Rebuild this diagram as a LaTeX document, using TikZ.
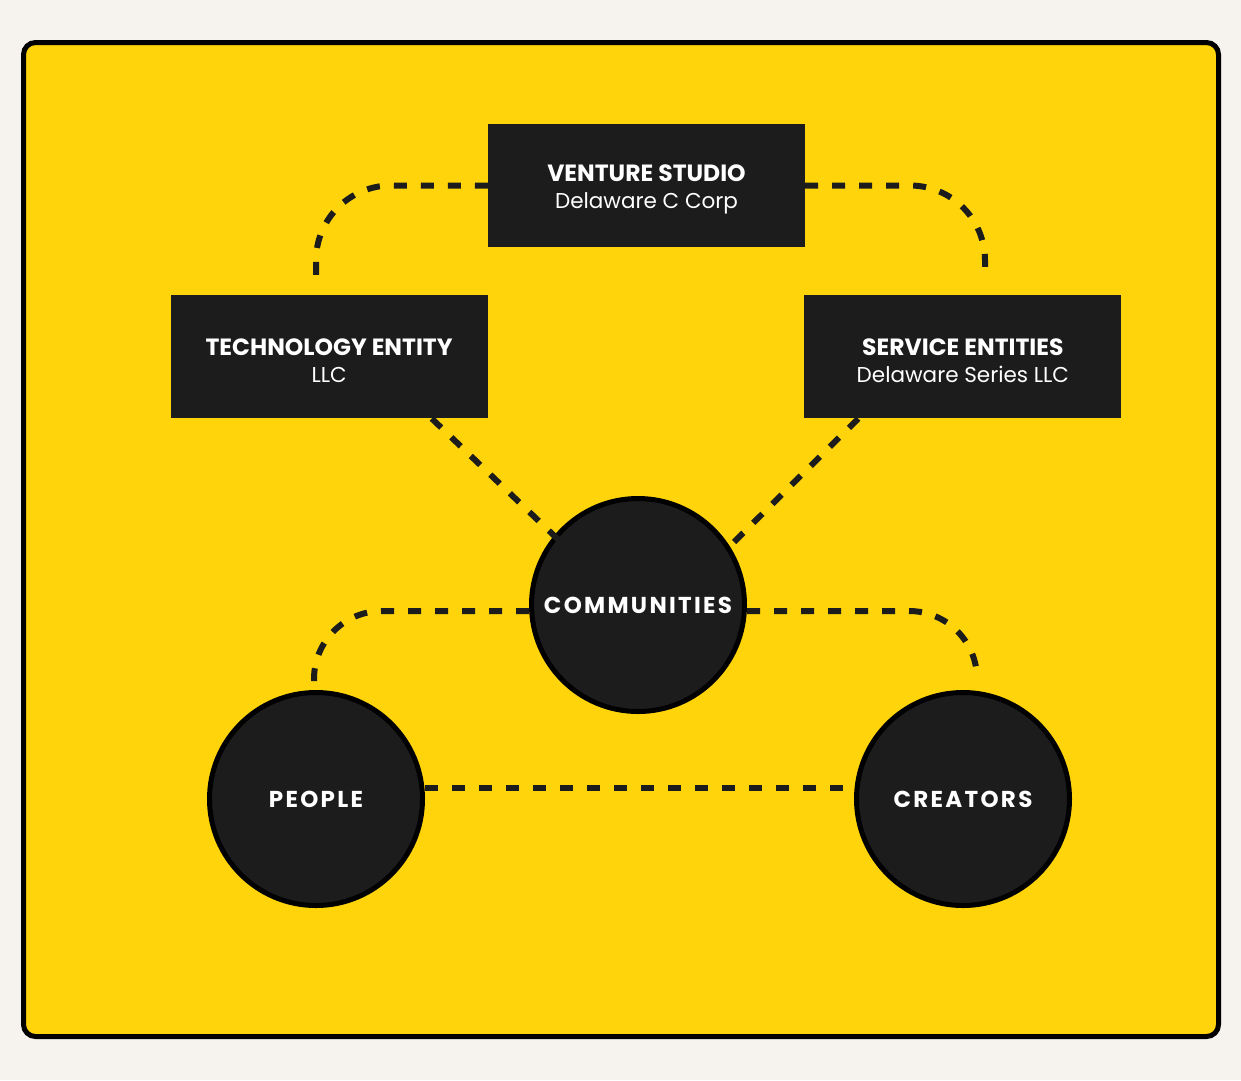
\documentclass[tikz,border=0pt]{standalone}
\usepackage{fontspec}
\setmainfont{Poppins}
\usepackage{xcolor}
\usetikzlibrary{positioning, backgrounds}
\definecolor{studioyellow}{HTML}{FFD40A}
\definecolor{boxdark}{HTML}{1C1C1C}
\definecolor{paper}{HTML}{F6F3EE}
\newcommand{\headfont}{\fontsize{23.5}{27}\selectfont\bfseries}
\newcommand{\subfont}{\fontsize{21.5}{27}\selectfont}

\begin{document}
\begin{tikzpicture}[
    x=1pt, y=-1pt,
    entity/.style={rectangle, fill=boxdark, text=white, align=center, font=\subfont, text height=52pt, minimum width=317pt, minimum height=123pt, inner sep=0pt},
    member/.style={circle, draw=black, line width=5pt, fill=boxdark, text=white, minimum size=213pt, inner sep=0pt, font=\fontsize{23}{27}\selectfont\bfseries\addfontfeature{LetterSpace=10}},
    link/.style={draw=boxdark, line width=6pt, dash pattern=on 13pt off 14pt}
]
    \useasboundingbox (0,0) rectangle (1241,1080);

    \node [entity] (venture) at (646.5,185.5) {{\headfont VENTURE STUDIO}\\Delaware C Corp};
    \node [entity, below left=48pt and 0pt of venture] (tech) {{\headfont TECHNOLOGY ENTITY}\\LLC};
    \node [entity, below right=48pt and -1pt of venture] (service) {{\headfont SERVICE ENTITIES}\\Delaware Series LLC};

    \node [member] (communities) at (638,605) {COMMUNITIES};
    \node [member] (people) at (316,799) {PEOPLE};
    \node [member] (creators) at (963,799) {CREATORS};

    \coordinate (techtop) at (316,281);
    \coordinate (servicetop) at (985,278);
    \coordinate (peopletop) at (314,681);
    \coordinate (creatorstop) at (977,678);

    \begin{scope}[on background layer]
        \fill [paper] (0,0) rectangle (1241,1080);
        \draw [line width=5pt, fill=studioyellow, rounded corners=12pt] (23.5,42.5) rectangle (1218.5,1036.5);
        \draw [link, rounded corners=75pt] (venture.west) -| (techtop);
        \draw [link, rounded corners=75pt] (venture.east) -| (servicetop);
        \draw [link, rounded corners=68pt] ([yshift=-6pt]communities.west) -| (peopletop);
        \draw [link, rounded corners=68pt] ([yshift=-6pt]communities.east) -| (creatorstop);
        \draw [link] ([yshift=11pt]people.east) -- ([yshift=11pt]creators.west);
    \end{scope}

    \draw [link] ([xshift=-56pt]tech.south east) -- ([shift={(-71pt,57pt)}]communities.center);
    \draw [link] ([xshift=54pt]service.south west) -- ([shift={(85pt,52pt)}]communities.center);
\end{tikzpicture}
\end{document}
